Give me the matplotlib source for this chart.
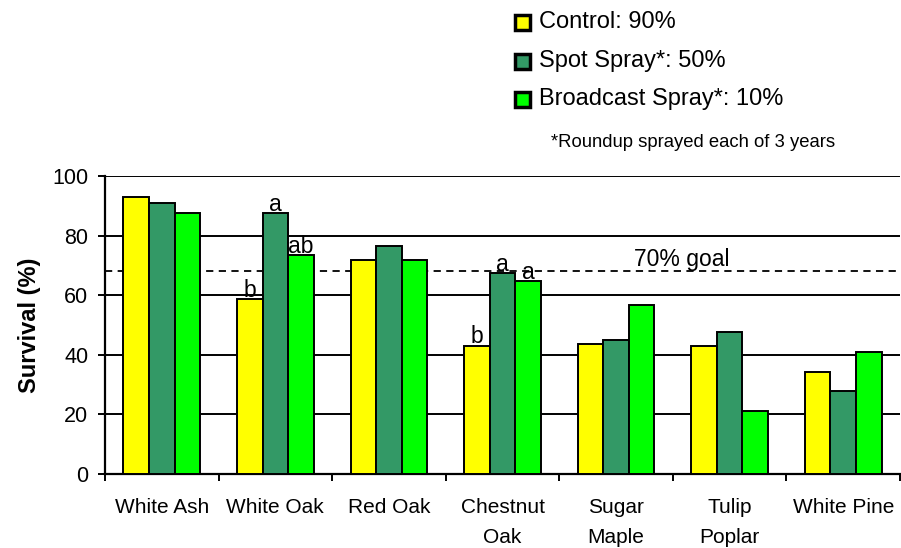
import matplotlib
matplotlib.use("Agg")
import matplotlib.pyplot as plt
import numpy as np
from matplotlib.patches import Rectangle

plt.rcParams['font.family'] = ['Liberation Sans', 'DejaVu Sans']

categories = ["White Ash", "White Oak", "Red Oak", "Chestnut\nOak", "Sugar\nMaple", "Tulip\nPoplar", "White Pine"]
control = [93, 58.6, 71.8, 43, 43.7, 43, 34.1]
spot = [91, 87.5, 76.4, 67.4, 45, 47.8, 28]
broadcast = [87.5, 73.5, 71.8, 64.7, 56.7, 21.1, 40.8]
series_names = ["Control: 90%", "Spot Spray*: 50%", "Broadcast Spray*: 10%"]
colors = ["#FFFF00", "#339966", "#00FF00"]
goal = 68
yticks = [0, 20, 40, 60, 80, 100]
# letter annotations: (category index, series index, letter)
letters = [(1, 0, "b"), (1, 1, "a"), (1, 2, "ab"), (3, 0, "b"), (3, 1, "a"), (3, 2, "a")]

fig = plt.figure(figsize=(9.01, 5.48), dpi=100)
ax = fig.add_axes([105/901, (548-474)/548, (900-105)/901, (474-176)/548])

x = np.arange(len(categories))
w = 0.225
allv = [control, spot, broadcast]
for i, (vals, c) in enumerate(zip(allv, colors)):
    ax.bar(x + (i-1)*w, vals, width=w, color=c, edgecolor="black", linewidth=1.4, zorder=3)

for ci, si, t in letters:
    v = allv[si][ci]
    ax.text(x[ci] + (si-1)*w, v + 0.8, t, ha="center", va="baseline", fontsize=16.5, zorder=4)

ax.axhline(goal, color="black", linestyle=(0, (4, 3)), linewidth=1.3, zorder=2)
ax.text(4.58, goal + 1.8, "70% goal", ha="center", va="baseline", fontsize=16.5)

ax.set_ylim(0, 100)
ax.set_xlim(-0.5, len(categories) - 0.5)
ax.set_yticks(yticks)
ax.yaxis.grid(True, color="black", linewidth=1.4, zorder=1)
ax.set_axisbelow(True)
ax.set_xticks(x)
ax.set_xticklabels(categories, fontsize=15, linespacing=1.75, va="top")
ax.tick_params(axis="x", length=0, pad=17)
ax.set_xticks(np.arange(len(categories) + 1) - 0.5, minor=True)
ax.tick_params(axis="x", which="minor", length=5, width=1.4, direction="out")
ax.tick_params(axis="y", length=5, width=1.4, direction="out", labelsize=15.5, pad=7)
for s in ["top", "right"]:
    ax.spines[s].set_visible(False)
for s in ["left", "bottom"]:
    ax.spines[s].set_linewidth(1.6)
ax.set_ylabel("Survival (%)", fontsize=17, fontweight="bold", labelpad=8)

# custom legend
baselines = [28, 67, 105]
for name, c, yb in zip(series_names, colors, baselines):
    fig.patches.append(Rectangle((515/901, 1 - (yb+2)/548), 15/901, 15/548,
                                 transform=fig.transFigure, facecolor=c,
                                 edgecolor="black", linewidth=2.5))
    fig.text(539/901, 1 - yb/548, name, ha="left", va="baseline", fontsize=17)
fig.text(551/901, 1 - 147/548, "*Roundup sprayed each of 3 years", ha="left", va="baseline", fontsize=13.3)

fig.savefig("out.png", dpi=100)
